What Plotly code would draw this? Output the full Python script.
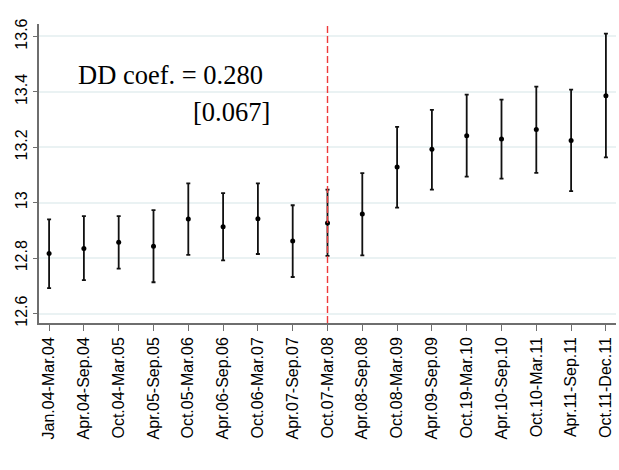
import plotly.graph_objects as go

categories = ["Jan.04-Mar.04", "Apr.04-Sep.04", "Oct.04-Mar.05", "Apr.05-Sep.05",
              "Oct.05-Mar.06", "Apr.06-Sep.06", "Oct.06-Mar.07", "Apr.07-Sep.07",
              "Oct.07-Mar.08", "Apr.08-Sep.08", "Oct.08-Mar.09", "Apr.09-Sep.09",
              "Oct.19-Mar.10", "Apr.10-Sep.10", "Oct.10-Mar.11", "Apr.11-Sep.11",
              "Oct.11-Dec.11"]
estimate = [12.817, 12.835, 12.857, 12.843, 12.941, 12.913, 12.942, 12.862,
            12.927, 12.959, 13.129, 13.193, 13.242, 13.230, 13.264, 13.225, 13.386]
upper = [12.940, 12.952, 12.952, 12.973, 13.070, 13.035, 13.070, 12.991,
         13.047, 13.107, 13.274, 13.335, 13.390, 13.372, 13.419, 13.408, 13.610]
lower = [12.692, 12.721, 12.762, 12.713, 12.812, 12.792, 12.815, 12.732,
         12.808, 12.810, 12.982, 13.047, 13.094, 13.087, 13.108, 13.042, 13.164]
ytick_vals = [12.6, 12.8, 13.0, 13.2, 13.4, 13.6]
ytick_text = ["12.6", "12.8", "13", "13.2", "13.4", "13.6"]
break_period = "Oct.07-Mar.08"
coef_text = "DD coef. = 0.280"
se_text = "[0.067]"

err_plus = [u - e for u, e in zip(upper, estimate)]
err_minus = [e - l for e, l in zip(estimate, lower)]

fig = go.Figure()
fig.add_trace(go.Scatter(
    x=categories, y=estimate, mode="markers",
    marker=dict(color="black", size=5),
    error_y=dict(type="data", symmetric=False, array=err_plus, arrayminus=err_minus,
                 color="#111111", thickness=1.8, width=2),
    showlegend=False, cliponaxis=False,
))

fig.add_shape(type="line", xref="x", yref="paper", x0=break_period, x1=break_period,
              y0=0, y1=1, line=dict(color="#ee3b3b", width=1.4, dash="7px,3px"))

fig.add_annotation(x=0.776, y=13.461, xref="x", yref="y", text=coef_text,
                   showarrow=False, xanchor="left", yanchor="middle",
                   font=dict(family="Liberation Serif", size=26.5, color="black"))
fig.add_annotation(x=6.406, y=13.327, xref="x", yref="y", text=se_text,
                   showarrow=False, xanchor="right", yanchor="middle",
                   font=dict(family="Liberation Serif", size=26.5, color="black"))

fig.update_layout(
    width=619, height=470,
    margin=dict(l=39, r=3, t=24, b=147, autoexpand=False),
    paper_bgcolor="white", plot_bgcolor="white",
    font=dict(family="Liberation Sans, Arial", color="black"),
    xaxis=dict(
        range=[-0.29, 16.29], showgrid=False, zeroline=False, automargin=False,
        showline=True, linecolor="#6e6e6e", linewidth=1.5,
        ticks="outside", ticklen=6, tickwidth=1.2, tickcolor="#6e6e6e",
        tickangle=-90, tickfont=dict(size=16, family="Liberation Sans, Arial"),
    ),
    yaxis=dict(
        range=[12.566, 13.645], tickvals=ytick_vals, ticktext=ytick_text,
        showgrid=True, gridcolor="#eaf2f3", gridwidth=1.5, zeroline=False,
        automargin=False,
        showline=True, linecolor="#6e6e6e", linewidth=1.5,
        ticks="outside", ticklen=4, tickwidth=1.2, tickcolor="#6e6e6e",
        tickangle=-90, tickfont=dict(size=16, family="Liberation Sans, Arial"),
    ),
)

fig.write_html("out.html", config={"displayModeBar": False},
               post_script="document.body.style.margin='0';document.body.style.padding='0';")
